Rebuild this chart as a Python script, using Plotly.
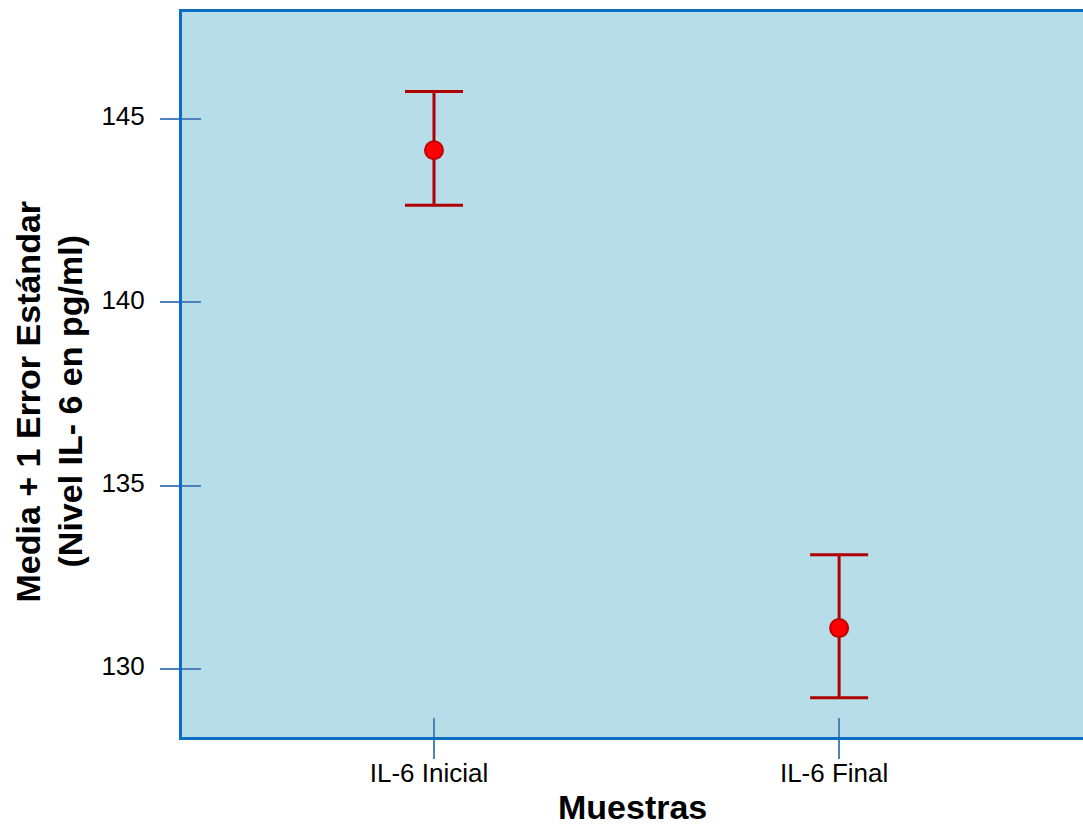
import plotly.graph_objects as go

categories = ["IL-6 Inicial", "IL-6 Final"]
means = [144.15, 131.12]
err_plus = [1.6, 2.0]
err_minus = [1.5, 1.9]
y_ticks = [130, 135, 140, 145]
y_title_lines = ["Media + 1 Error Estándar", "(Nivel IL- 6 en pg/ml)"]
x_title = "Muestras"

x_pos = list(range(len(categories)))
axis_col = "#0a6fc2"
tick_col = "#4f81bd"
font_family = "Liberation Sans, Arial, sans-serif"

fig = go.Figure()
fig.add_trace(go.Scatter(
    x=x_pos, y=means, mode="markers",
    marker=dict(color="#ff0000", size=18, line=dict(color="#c00000", width=2)),
    error_y=dict(type="data", symmetric=False, array=err_plus, arrayminus=err_minus,
                 color="#b00000", thickness=3, width=29),
    showlegend=False, hoverinfo="skip",
))
# invisible trace on overlay axes for inner tick halves
fig.add_trace(go.Scatter(x=x_pos, y=means, xaxis="x2", yaxis="y2", mode="markers",
                         marker=dict(opacity=0), showlegend=False, hoverinfo="skip"))

xr = [-0.622, 1.602]
yr = [128.15, 147.92]

fig.update_layout(
    width=1083, height=825,
    margin=dict(l=182, r=0, t=12, b=88),
    paper_bgcolor="white", plot_bgcolor="#b7dde8",
    font=dict(family=font_family, color="#000000"),
    xaxis=dict(range=xr, tickvals=x_pos, ticktext=categories, ticks="outside",
               ticklen=19, tickwidth=2, tickcolor=tick_col, showgrid=False, zeroline=False,
               showline=True, linecolor=axis_col, linewidth=3, mirror=True,
               tickfont=dict(size=26, family=font_family), ticklabelstandoff=-8,
               ticklabelshift=-5),
    yaxis=dict(range=yr, tickvals=y_ticks, ticks="outside", ticklen=19, tickwidth=2,
               tickcolor=tick_col, showgrid=False, zeroline=False, showline=True,
               linecolor=axis_col, linewidth=3, tickfont=dict(size=26, family=font_family),
               ticklabelstandoff=10, ticklabelshift=-3),
    xaxis2=dict(range=xr, overlaying="x", tickvals=x_pos, ticks="inside", ticklen=19,
                tickwidth=2, tickcolor=tick_col, showticklabels=False, showgrid=False,
                zeroline=False, showline=False),
    yaxis2=dict(range=yr, overlaying="y", tickvals=y_ticks, ticks="inside", ticklen=19,
                tickwidth=2, tickcolor=tick_col, showticklabels=False, showgrid=False,
                zeroline=False, showline=False),
)

for i, (line, shift) in enumerate(zip(y_title_lines, [-155, -113])):
    fig.add_annotation(text=f"<b>{line}</b>", xref="paper", yref="paper", x=0, y=0.5,
                       xshift=shift, yshift=-27, textangle=-90, showarrow=False,
                       xanchor="center", yanchor="middle",
                       font=dict(size=34, family=font_family, color="#000000"))
fig.add_annotation(text=f"<b>{x_title}</b>", xref="paper", yref="paper", x=0.5, y=0,
                   yshift=-70, showarrow=False, xanchor="center", yanchor="middle",
                   font=dict(size=34, family=font_family, color="#000000"))

fig.write_html("out.html", config={"displayModeBar": False},
               post_script="document.body.style.margin='0px';document.body.style.overflow='hidden';")
